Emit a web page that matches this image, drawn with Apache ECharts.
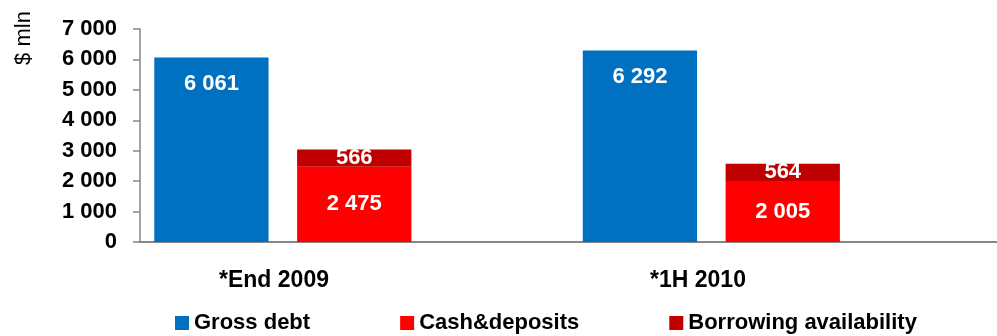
<!DOCTYPE html>
<html>
<head>
<meta charset="utf-8">
<style>
  html, body { margin: 0; padding: 0; background: #fff; }
  #chart { width: 997px; height: 336px; }
</style>
<script src="https://cdn.jsdelivr.net/npm/echarts@6/dist/echarts.min.js"></script>
</head>
<body>
<div id="chart"></div>
<script>
// Periods and values ($ mln)
const periods = ['*End 2009', '*1H 2010'];
const grossDebt = [6061, 6292];
const cashDeposits = [2475, 2005];
const borrowingAvailability = [566, 564];
const yTickLabels = ['0', '1 000', '2 000', '3 000', '4 000', '5 000', '6 000', '7 000'];
const seriesNames = ['Gross debt', 'Cash&deposits', 'Borrowing availability'];

const FONT = "'Liberation Sans', Arial, sans-serif";
const BLUE = '#0070C0', RED = '#FF0000', DARK_RED = '#C00000';

// Each period occupies three slots: debt bar, cash stack, empty gap
const SLOTS_PER_PERIOD = 3;
const slotCount = periods.length * SLOTS_PER_PERIOD;
const slots = Array.from({ length: slotCount }, (_, i) => 's' + i);
function place(values, offset) {
  const out = new Array(slotCount).fill(null);
  values.forEach((v, i) => { out[i * SLOTS_PER_PERIOD + offset] = v; });
  return out;
}
const fmt = v => String(v).replace(/\B(?=(\d{3})+(?!\d))/g, ' ');

const valueLabel = (position, distance) => ({
  show: true,
  position: position,
  distance: distance,
  color: '#fff',
  fontFamily: FONT,
  fontWeight: 'bold',
  fontSize: 22,
  formatter: p => fmt(p.value)
});

const chart = echarts.init(document.getElementById('chart'), null, { renderer: 'canvas' });
chart.setOption({
  animation: false,
  backgroundColor: '#fff',
  grid: [
    { left: 140, right: -9, top: 29, bottom: 94 },
    { left: 62, right: 87, top: 29, bottom: 94 }
  ],
  xAxis: [
    {
      type: 'category', gridIndex: 0, data: slots,
      axisLine: { lineStyle: { color: '#868686', width: 2 } },
      axisTick: { show: false },
      axisLabel: { show: false },
      splitLine: { show: false }
    },
    {
      type: 'category', gridIndex: 1, data: periods,
      axisLine: { show: false },
      axisTick: { show: false },
      axisLabel: {
        margin: 27, color: '#000', fontFamily: FONT, fontWeight: 'bold',
        fontSize: 23, lineHeight: 23
      }
    }
  ],
  yAxis: [
    {
      type: 'value', gridIndex: 0, min: 0, max: 7000, interval: 1000,
      axisLine: { show: true, lineStyle: { color: '#868686', width: 1.5 } },
      axisTick: { show: true, length: 7, lineStyle: { color: '#868686', width: 1.5 } },
      splitLine: { show: false },
      axisLabel: {
        margin: 23, color: '#000', fontFamily: FONT, fontWeight: 'bold', fontSize: 22,
        formatter: v => yTickLabels[Math.round(v / 1000)]
      }
    },
    { type: 'value', gridIndex: 1, show: false, min: 0, max: 7000 }
  ],
  legend: {
    left: 175, top: 312, padding: 0,
    icon: 'rect', itemWidth: 14, itemHeight: 14, itemGap: 90,
    data: seriesNames,
    textStyle: { color: '#000', fontFamily: FONT, fontWeight: 'bold', fontSize: 22, lineHeight: 22 }
  },
  graphic: [{
    type: 'text', x: 24, y: 38, rotation: Math.PI / 2,
    style: {
      text: '$ mln', fill: '#000', font: '22px ' + FONT,
      align: 'center', verticalAlign: 'middle'
    }
  }],
  series: [
    {
      name: seriesNames[0], type: 'bar', xAxisIndex: 0, yAxisIndex: 0,
      data: place(grossDebt, 0), barWidth: '80%', barGap: '-100%',
      itemStyle: { color: BLUE },
      label: valueLabel('insideTop', 15)
    },
    {
      name: seriesNames[1], type: 'bar', stack: 'liquidity', xAxisIndex: 0, yAxisIndex: 0,
      data: place(cashDeposits, 1), barWidth: '80%', barGap: '-100%',
      itemStyle: { color: RED },
      label: valueLabel('inside', 0)
    },
    {
      name: seriesNames[2], type: 'bar', stack: 'liquidity', xAxisIndex: 0, yAxisIndex: 0,
      data: place(borrowingAvailability, 1), barWidth: '80%', barGap: '-100%',
      itemStyle: { color: DARK_RED },
      label: valueLabel('inside', 0)
    }
  ]
});
</script>
</body>
</html>
